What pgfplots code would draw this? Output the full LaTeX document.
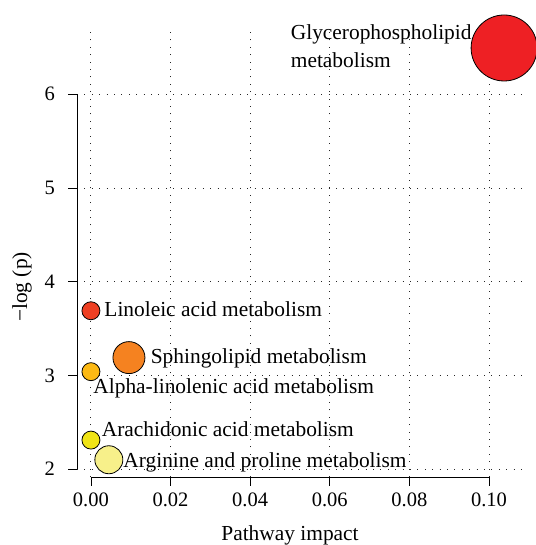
\documentclass[border=0pt]{standalone}
\usepackage{fontspec}
\setmainfont{Liberation Serif}
\usepackage{pgfplots}
\pgfplotsset{compat=1.18}
\definecolor{cGly}{RGB}{238,32,36}
\definecolor{cLin}{RGB}{238,64,35}
\definecolor{cSph}{RGB}{245,130,32}
\definecolor{cAlp}{RGB}{252,185,20}
\definecolor{cAra}{RGB}{240,228,22}
\definecolor{cArg}{RGB}{247,240,138}
\begin{document}
\begin{tikzpicture}[font=\fontsize{21.4bp}{25bp}\selectfont]
\begin{axis}[
 at={(77bp,68bp)}, anchor=south west,
 scale only axis, width=445bp, height=447bp,
 xmin=-0.0035, xmax=0.1083, ymin=1.916, ymax=6.686,
 axis line style={draw=none},
 clip=false,
 scaled x ticks=false,
 xtick={0,0.02,0.04,0.06,0.08,0.1},
 xticklabels={0.00,0.02,0.04,0.06,0.08,0.10},
 ytick={2,3,4,5,6}, yticklabels={2,3,4,5,6},
 xtick pos=bottom, ytick pos=left,
 tick align=outside, major tick length=9bp,
 tick style={black, line width=0.8bp},
 grid=major,
 major grid style={black!85, line width=0.9bp, dash pattern=on 0.9bp off 6.5bp},
 tick label style={font=\fontsize{20.5bp}{24bp}\selectfont, inner sep=0pt},
 xticklabel style={anchor=north, yshift=-7bp},
 yticklabel style={anchor=east, xshift=-13bp},
 xlabel={Pathway impact}, ylabel={−log (p)},
 every axis x label/.style={at={(axis description cs:0.4787,-0.143)}, anchor=base},
 every axis y label/.style={at={(axis description cs:-0.1236,0.425)}, rotate=90, anchor=center},
]
\draw[line width=0.8bp] (axis cs:-0.0035,2) -- (axis cs:-0.0035,6);
\draw[line width=0.8bp] (axis cs:0,1.916) -- (axis cs:0.1,1.916);

\addplot[only marks, mark=*, mark size=33bp, mark options={fill=cGly, draw=black, line width=0.8bp}] coordinates {(0.1038,6.494)};
\addplot[only marks, mark=*, mark size=9bp, mark options={fill=cLin, draw=black, line width=0.8bp}] coordinates {(0.0,3.69)};
\addplot[only marks, mark=*, mark size=16bp, mark options={fill=cSph, draw=black, line width=0.8bp}] coordinates {(0.00955,3.19)};
\addplot[only marks, mark=*, mark size=9bp, mark options={fill=cAlp, draw=black, line width=0.8bp}] coordinates {(0.0,3.04)};
\addplot[only marks, mark=*, mark size=9bp, mark options={fill=cAra, draw=black, line width=0.8bp}] coordinates {(0.0,2.31)};
\addplot[only marks, mark=*, mark size=14bp, mark options={fill=cArg, draw=black, line width=0.8bp}] coordinates {(0.0045,2.10)};

\node[anchor=base west, inner sep=0pt] at (axis cs:0.05018,6.580) {Glycerophospholipid};
\node[anchor=base west, inner sep=0pt] at (axis cs:0.05018,6.291) {metabolism};
\node[anchor=base west, inner sep=0pt] at (axis cs:0.00334,3.634) {Linoleic acid metabolism};
\node[anchor=base west, inner sep=0pt] at (axis cs:0.0150,3.132) {Sphingolipid metabolism};
\node[anchor=base west, inner sep=0pt] at (axis cs:0.00058,2.802) {Alpha-linolenic acid metabolism};
\node[anchor=base west, inner sep=0pt] at (axis cs:0.00269,2.353) {Arachidonic acid metabolism};
\node[anchor=base west, inner sep=0pt] at (axis cs:0.00812,2.017) {Arginine and proline metabolism};
\end{axis}
\pgfresetboundingbox
\useasboundingbox (0,0) rectangle (536bp,545bp);
\end{tikzpicture}
\end{document}
